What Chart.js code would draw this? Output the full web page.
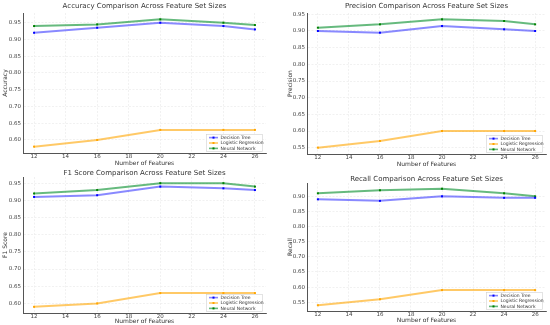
<!DOCTYPE html>
<html>
<head>
<meta charset="utf-8">
<script src="https://cdn.jsdelivr.net/npm/chart.js@4/dist/chart.umd.min.js"></script>
<style>
  html, body { margin: 0; padding: 0; background: #fff; }
  body { width: 550px; height: 325px; position: relative; overflow: hidden; }
  .cv { position: absolute; }
</style>
</head>
<body>
<canvas id="c-acc" class="cv"></canvas>
<canvas id="c-prec" class="cv"></canvas>
<canvas id="c-f1" class="cv"></canvas>
<canvas id="c-rec" class="cv"></canvas>
<script>
// ── data ─────────────────────────────────────
const features = [12, 16, 20, 24, 26];
const models = ['Decision Tree', 'Logistic Regression', 'Neural Network'];

const accDT = [0.92, 0.935, 0.95, 0.94, 0.93];
const accLR = [0.58, 0.60, 0.63, 0.63, 0.63];
const accNN = [0.94, 0.945, 0.96, 0.95, 0.943];

const precDT = [0.90, 0.895, 0.915, 0.905, 0.90];
const precLR = [0.55, 0.57, 0.60, 0.60, 0.60];
const precNN = [0.91, 0.92, 0.935, 0.93, 0.92];

const f1DT = [0.91, 0.915, 0.94, 0.935, 0.93];
const f1LR = [0.59, 0.60, 0.63, 0.63, 0.63];
const f1NN = [0.92, 0.93, 0.95, 0.95, 0.94];

const recDT = [0.89, 0.885, 0.90, 0.895, 0.895];
const recLR = [0.54, 0.56, 0.59, 0.59, 0.59];
const recNN = [0.91, 0.92, 0.925, 0.91, 0.90];

const LINE = ['rgba(40,40,255,0.55)', 'rgba(255,165,0,0.6)', 'rgba(0,140,40,0.6)'];
const MARK = ['#0000ff', '#ffa500', '#008000'];
const FONT = 'DejaVu Sans';

// legend drawn inside the plot, lower right (matplotlib style)
const boxLegend = {
  id: 'boxLegend',
  afterDatasetsDraw(chart) {
    const { ctx, chartArea: a } = chart;
    const w = 57, h = 18, x = a.right - 3 - w, y = a.bottom - 1 - h;
    ctx.save();
    ctx.fillStyle = 'rgba(255,255,255,0.85)';
    ctx.strokeStyle = '#d0d0d0';
    ctx.lineWidth = 0.6;
    ctx.fillRect(x, y, w, h);
    ctx.strokeRect(x + 0.5, y + 0.5, w - 1, h - 1);
    ctx.font = `4.5px "${FONT}"`;
    ctx.textBaseline = 'middle';
    chart.data.datasets.forEach((ds, i) => {
      const ry = y + 3.6 + i * 5.4;
      ctx.strokeStyle = ds.borderColor;
      ctx.lineWidth = 1.6;
      ctx.beginPath(); ctx.moveTo(x + 3, ry); ctx.lineTo(x + 12, ry); ctx.stroke();
      ctx.fillStyle = ds.pointBackgroundColor;
      ctx.fillRect(x + 6.5, ry - 1, 2, 2);
      ctx.fillStyle = '#333';
      ctx.fillText(ds.label, x + 14.5, ry);
    });
    ctx.restore();
  }
};

function makeChart(id, box, title, yLabel, series, yMin, yMax) {
  const el = document.getElementById(id);
  el.style.left = box.x + 'px';
  el.style.top = box.y + 'px';
  el.style.width = box.w + 'px';
  el.style.height = box.h + 'px';
  el.width = box.w; el.height = box.h;

  return new Chart(el, {
    type: 'line',
    data: {
      datasets: series.map((vals, i) => ({
        label: models[i],
        data: features.map((f, j) => ({ x: f, y: vals[j] })),
        borderColor: LINE[i],
        borderWidth: 2,
        pointBackgroundColor: MARK[i],
        pointBorderColor: MARK[i],
        pointStyle: 'rect',
        pointRadius: 1.4,
        pointBorderWidth: 0,
        tension: 0
      }))
    },
    options: {
      responsive: false,
      animation: false,
      devicePixelRatio: 1,
      layout: { padding: { left: 0, right: box.padR, top: 0, bottom: 0 } },
      plugins: {
        legend: { display: false },
        tooltip: { enabled: false },
        title: {
          display: true, text: title, color: '#333', fullSize: false,
          font: { family: FONT, size: 7, weight: 'normal', lineHeight: 1.2 },
          padding: { top: box.tTop, bottom: box.tBot }
        }
      },
      scales: {
        x: {
          type: 'linear', min: 11.3, max: 26.7,
          afterFit(s) { s.height = box.xH; },
          grid: { color: '#e8e8e8', lineWidth: 0.6, drawTicks: false },
          border: { display: true, color: '#555', width: 1, dash: [2, 1.5] },
          ticks: { stepSize: 2, includeBounds: false, padding: 0, color: '#444',
                   font: { family: FONT, size: 5.5 } },
          title: { display: true, text: 'Number of Features', color: '#333',
                   font: { family: FONT, size: 6 }, padding: { top: 0, bottom: box.xtBot } }
        },
        y: {
          min: yMin, max: yMax,
          afterFit(s) { s.width = box.yW; },
          grid: { color: '#e8e8e8', lineWidth: 0.6, drawTicks: false },
          border: { display: true, color: '#555', width: 1, dash: [2, 1.5] },
          ticks: { stepSize: 0.05, includeBounds: false, padding: 2, color: '#444',
                   font: { family: FONT, size: 5.5 },
                   callback: v => Number(v).toFixed(2) },
          title: { display: true, text: yLabel, color: '#333',
                   font: { family: FONT, size: 6 }, padding: { top: box.ytTop, bottom: 0 } }
        }
      }
    },
    plugins: [boxLegend]
  });
}

makeChart('c-acc', { x: 0, y: 0, w: 275, h: 170, padR: 9, yW: 23, xH: 17, tTop: 2, tBot: 2.6, xtBot: 2.9, ytTop: 1.4 },
  'Accuracy Comparison Across Feature Set Sizes', 'Accuracy', [accDT, accLR, accNN], 0.561, 0.979);
makeChart('c-prec', { x: 275, y: 0, w: 275, h: 170, padR: 3, yW: 32, xH: 16, tTop: 2, tBot: 2.6, xtBot: 2.4, ytTop: 11.4 },
  'Precision Comparison Across Feature Set Sizes', 'Precision', [precDT, precLR, precNN], 0.531, 0.954);
makeChart('c-f1', { x: 0, y: 160, w: 275, h: 165, padR: 9, yW: 23, xH: 12, tTop: 8.6, tBot: 0, xtBot: 0.4, ytTop: 1.4 },
  'F1 Score Comparison Across Feature Set Sizes', 'F1 Score', [f1DT, f1LR, f1NN], 0.572, 0.968);
makeChart('c-rec', { x: 275, y: 160, w: 275, h: 165, padR: 3, yW: 32, xH: 14, tTop: 14.6, tBot: 0, xtBot: 1.4, ytTop: 11.4 },
  'Recall Comparison Across Feature Set Sizes', 'Recall', [recDT, recLR, recNN], 0.521, 0.944);
</script>
</body>
</html>
